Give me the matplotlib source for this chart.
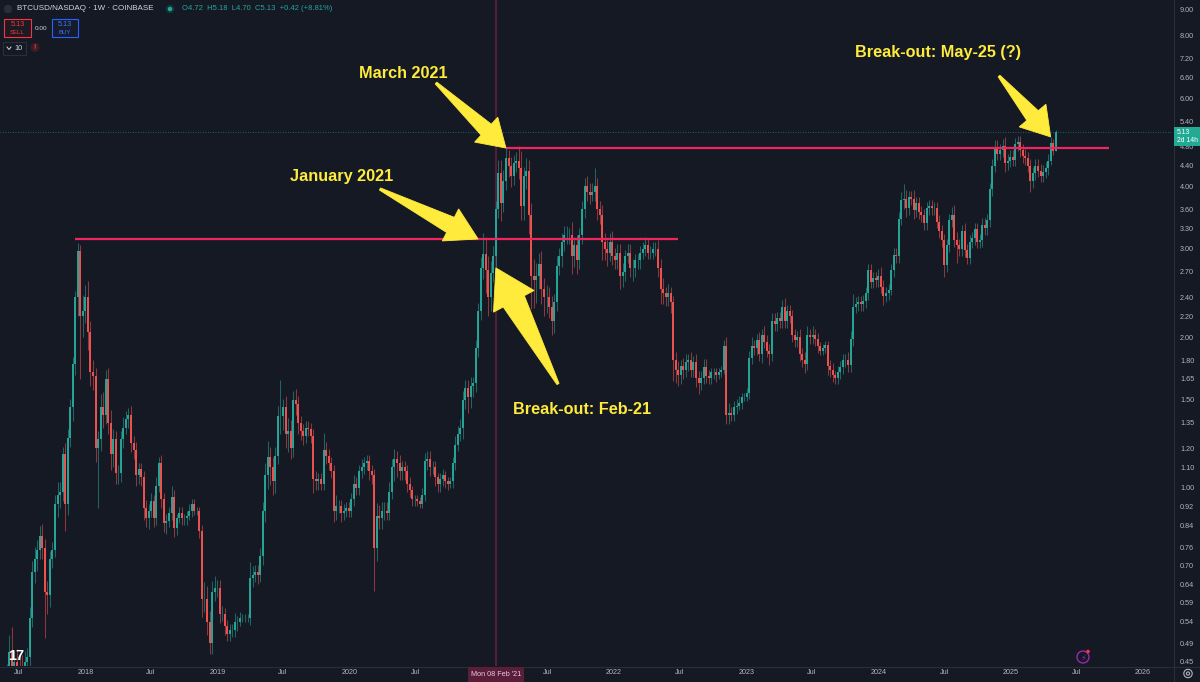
import matplotlib
matplotlib.use("Agg")
import matplotlib.pyplot as plt
import matplotlib.dates as mdates
from matplotlib.patches import Polygon, Rectangle, Circle
from matplotlib.ticker import NullLocator
import numpy as np
import pandas as pd

W, H = 1200, 682
BG = "#151924"
UP, DN = "#26a69a", "#ef5350"
YEL = "#ffeb3b"
PINK = "#f0245e"
AXC = "#b2b5be"

plt.rcParams["font.family"] = ["Liberation Sans", "DejaVu Sans"]

# weekly closes BTCUSD / NASDAQ, first week = 15 May 2017
closes = [
    # 2017
    0.34, 0.37, 0.42,
    0.47, 0.44, 0.45, 0.44,
    0.43, 0.34, 0.45, 0.46, 0.55,
    0.68, 0.72, 0.75, 0.80,
    0.76, 0.62, 0.61, 0.72,
    0.75, 0.93, 0.97, 0.98, 1.17,
    0.93, 1.26, 1.45, 1.77,
    2.40, 2.97, 2.20, 2.25,
    # 2018
    2.40, 2.05, 1.70, 1.67, 1.20,
    1.25, 1.45, 1.40, 1.65,
    1.35, 1.17, 1.25, 1.07,
    1.07, 1.25, 1.32, 1.37, 1.40,
    1.23, 1.19, 1.06, 1.09,
    1.05, 0.91, 0.87, 0.90,
    0.94, 0.87, 1.01, 1.12, 0.95,
    0.85, 0.86, 0.89, 0.96,
    0.83, 0.87, 0.89, 0.87,
    0.87, 0.88, 0.90, 0.93, 0.90,
    0.90, 0.82, 0.60, 0.60,
    0.54, 0.49, 0.62, 0.63, 0.63,
    # 2019
    0.56, 0.56, 0.53, 0.51,
    0.52, 0.52, 0.54, 0.54,
    0.55, 0.55, 0.55, 0.55,
    0.66, 0.67, 0.68, 0.67, 0.73,
    0.90, 1.06, 1.15, 1.10,
    1.03, 1.16, 1.39, 1.39,
    1.45, 1.28, 1.30, 1.20, 1.50,
    1.47, 1.35, 1.30, 1.27,
    1.32, 1.31, 1.27, 1.04, 1.03,
    1.04, 1.02, 1.19, 1.16,
    1.12, 1.08, 0.90, 0.92,
    0.92, 0.89, 0.90, 0.91, 0.90,
    # 2020
    0.95, 1.02, 1.00, 1.08,
    1.10, 1.12, 1.13, 1.08,
    1.06, 0.76, 0.88, 0.87, 0.90,
    0.90, 0.89, 0.98, 1.10,
    1.14, 1.12, 1.08, 1.10,
    1.08, 1.02, 0.99, 0.95, 0.95,
    0.94, 0.93, 0.97, 1.13,
    1.14, 1.10, 1.10, 1.05, 1.02,
    1.04, 1.06, 1.03, 1.02,
    1.03, 1.12, 1.22, 1.28,
    1.32, 1.50, 1.58, 1.52, 1.60,
    1.62, 1.90, 2.25, 2.75,
    # 2021
    2.93, 2.72, 2.40, 2.68,
    2.90, 3.60, 4.25, 3.70,
    4.10, 4.55, 4.40, 4.20, 4.45,
    4.50, 4.35, 3.65, 4.20,
    4.30, 3.50, 2.65, 2.60, 2.65,
    2.80, 2.50, 2.40, 2.40,
    2.30, 2.15, 2.35, 2.77,
    2.90, 3.10, 3.20, 3.20, 3.20,
    2.90, 3.05, 2.85, 3.20,
    3.60, 4.00, 3.90, 3.85,
    3.90, 4.00, 3.60, 3.50, 3.10,
    3.00, 2.95, 3.10, 2.90,
    # 2022
    2.85, 2.95, 2.65, 2.70, 2.90,
    2.95, 2.75, 2.75, 2.85,
    2.85, 2.95, 3.00, 3.05,
    2.95, 2.95, 3.00, 3.00,
    2.75, 2.50, 2.45, 2.40, 2.45,
    2.35, 1.80, 1.72, 1.68,
    1.75, 1.72, 1.78, 1.80,
    1.72, 1.78, 1.66, 1.62, 1.66,
    1.74, 1.67, 1.66, 1.70,
    1.70, 1.68, 1.70, 1.72, 1.92,
    1.40, 1.41, 1.40, 1.45,
    1.46, 1.48, 1.52, 1.52,
    # 2023
    1.55, 1.82, 1.92, 1.90, 1.97,
    1.85, 2.02, 1.96, 1.88,
    1.85, 2.15, 2.12, 2.18,
    2.15, 2.30, 2.15, 2.25,
    2.20, 2.02, 1.97, 2.00, 1.85,
    1.80, 1.77, 2.02, 2.00,
    2.02, 1.98, 1.92, 1.88, 1.90,
    1.93, 1.75, 1.72, 1.68,
    1.66, 1.70, 1.74, 1.80,
    1.80, 1.76, 1.98, 2.30, 2.33,
    2.35, 2.33, 2.36, 2.45,
    2.72, 2.58, 2.62, 2.60,
    # 2024
    2.65, 2.52, 2.42, 2.45, 2.48,
    2.72, 2.92, 2.90, 3.45,
    3.75, 3.78, 3.62, 3.80,
    3.78, 3.58, 3.70, 3.55, 3.50,
    3.38, 3.62, 3.65, 3.62,
    3.62, 3.40, 3.25, 3.12,
    2.78, 3.05, 3.42, 3.50, 3.12,
    3.05, 3.00, 3.25, 2.98,
    2.88, 3.10, 3.15, 3.28, 3.10,
    3.12, 3.35, 3.30, 3.42,
    3.95, 4.40, 4.80, 4.65,
    4.72, 4.82, 4.45, 4.50, 4.58,
    # 2025
    4.52, 4.85, 4.90, 4.72,
    4.60, 4.55, 4.40, 4.10,
    4.25, 4.40, 4.30, 4.20, 4.28,
    4.35, 4.50, 4.88, 4.71,
    5.13,
]
first_open = 0.31

# upper / lower wick, in % beyond the candle body
up_wick = [
    5, 6, 6,  8, 12, 5, 6,  5, 8, 5, 4, 5,  5, 6, 5, 5,  6, 4, 5, 4,
    4, 4, 6, 5, 3,  5, 4, 4, 3,  3, 4, 3, 8,
    6, 8, 5, 6, 4,  4, 6, 7, 4,  5, 6, 5, 4,  4, 4, 5, 4, 3,  4, 3, 4, 3,
    3, 3, 4, 3,  4, 3, 4, 3, 4,  3, 3, 3, 5,  3, 2, 3, 3,  2, 2, 3, 2, 2,
    2, 2, 3, 8,  6, 5, 5, 6, 4,
    4, 4, 3, 3,  3, 3, 4, 3,  3, 2, 2, 2,  8, 4, 3, 3, 4,  4, 6, 8, 5,
    5, 4, 5, 18,  4, 5, 6, 5, 4,  5, 4, 3, 3,  3, 3, 3, 3, 4,  3, 3, 8, 4,
    3, 3, 3, 5,  3, 3, 3, 3, 3,
    3, 4, 3, 3,  4, 3, 3, 3,  3, 3, 6, 5, 4,  4, 4, 5, 4,  5, 4, 4, 3,
    3, 3, 3, 2, 2,  2, 2, 3, 4,  4, 4, 3, 3, 2,  3, 3, 2, 2,  2, 3, 4, 4,
    4, 4, 4, 4, 4,  3, 4, 4, 5,
    10, 8, 7, 6,  5, 4, 6, 6,  5, 5, 4, 4, 4,  4, 7, 8, 4,  6, 5, 6, 8, 6,
    5, 6, 5, 6,  5, 5, 4, 5,  4, 4, 4, 4, 3,  6, 4, 5, 3,  4, 4, 5, 4,
    4, 9, 4, 4, 5,  4, 4, 4, 5,
    4, 4, 4, 4, 3,  4, 4, 4, 3,  3, 3, 3, 4,  3, 3, 3, 3,  4, 4, 5, 3, 4,
    3, 3, 4, 4,  3, 4, 4, 3,  4, 3, 4, 3, 3,  4, 4, 3, 2,  2, 2, 2, 2, 3,
    4, 5, 3, 3,  3, 3, 2, 2,
    2, 3, 4, 3, 3,  4, 3, 4, 3,  3, 4, 4, 3,  3, 3, 4, 3,  3, 3, 3, 3, 4,
    3, 4, 4, 3,  4, 3, 3, 2, 2,  2, 2, 3, 3,  2, 3, 3, 3,  3, 4, 4, 6, 3,
    3, 3, 3, 3,  3, 3, 3, 3,
    3, 4, 3, 3, 3,  3, 3, 3, 3,  4, 7, 4, 3,  3, 4, 3, 3, 3,  3, 3, 3, 3,
    3, 3, 3, 3,  3, 3, 3, 4, 5,  4, 3, 3, 4,  3, 3, 3, 3, 3,  3, 3, 3, 3,
    3, 3, 3, 3,  3, 3, 4, 3, 3,
    3, 3, 3, 3,  3, 3, 3, 3,  3, 3, 3, 3, 3,  3, 3, 3, 2,  1,
]
dn_wick = [
    4, 5, 4,  6, 8, 6, 5,  6, 10, 5, 4, 5,  4, 5, 5, 4,  5, 19, 8, 5,
    4, 3, 6, 6, 4,  12, 5, 4, 6,  5, 8, 25, 9,
    5, 8, 6, 6, 6,  24, 5, 6, 4,  5, 7, 6, 5,  5, 4, 4, 3, 4,  4, 4, 5, 4,
    4, 5, 4, 5,  3, 4, 3, 3, 4,  4, 5, 3, 3,  4, 3, 2, 3,  3, 3, 2, 3, 2,
    2, 3, 8, 6,  6, 5, 5, 4, 4,
    4, 3, 4, 3,  3, 3, 3, 4,  2, 2, 2, 2,  3, 4, 3, 4, 3,  4, 5, 6, 8,
    6, 5, 4, 8,  6, 6, 8, 5, 4,  5, 5, 4, 4,  3, 3, 3, 6, 4,  4, 3, 3, 4,
    3, 3, 5, 4,  3, 4, 3, 3, 3,
    3, 3, 3, 3,  3, 3, 3, 4,  4, 18, 6, 5, 5,  4, 3, 3, 3,  6, 6, 4, 4,
    4, 4, 3, 3, 3,  2, 2, 2, 3,  4, 4, 3, 4, 4,  4, 3, 3, 3,  2, 3, 3, 3,
    3, 5, 4, 7, 5,  5, 4, 4, 4,
    5, 10, 8, 6,  4, 5, 4, 8,  4, 4, 5, 5, 4,  4, 5, 6, 6,  6, 8, 14, 12, 10,
    6, 7, 8, 7,  5, 6, 5, 4,  4, 5, 4, 4, 4,  8, 5, 6, 4,  4, 4, 4, 4,
    3, 4, 5, 4, 8,  5, 6, 4, 4,
    4, 4, 6, 5, 4,  3, 4, 6, 4,  4, 4, 3, 3,  3, 3, 3, 3,  4, 7, 5, 4, 4,
    5, 9, 6, 5,  4, 4, 3, 4,  3, 3, 4, 5, 3,  3, 3, 3, 3,  3, 3, 2, 2, 2,
    4, 4, 3, 3,  3, 2, 3, 2,
    2, 3, 3, 3, 3,  3, 4, 3, 3,  5, 3, 3, 3,  3, 3, 3, 3,  3, 3, 3, 3, 3,
    3, 4, 3, 3,  3, 3, 3, 2, 2,  2, 4, 3, 3,  3, 3, 3, 3,  3, 3, 3, 3, 3,
    3, 3, 3, 3,  3, 3, 3, 3,
    3, 3, 4, 3, 3,  2, 3, 3, 3,  3, 4, 4, 3,  3, 4, 3, 3, 3,  3, 3, 3, 3,
    3, 3, 3, 3,  5, 3, 3, 3, 3,  8, 3, 3, 3,  3, 3, 3, 3, 3,  3, 3, 3, 3,
    3, 3, 3, 3,  3, 3, 4, 3, 3,
    3, 3, 3, 3,  3, 3, 3, 5,  3, 3, 3, 3, 3,  3, 3, 2, 2,  0,
]

# horizontal levels drawn on the chart
levels = [3.14, 4.77]
level_start = ["2017-12-04", "2021-03-08"]
level_end = ["2022-06-27", "2025-09-29"]
marked_week = "2021-02-08"
last_price = 5.13

yticks = [9.00, 8.00, 7.20, 6.60, 6.00, 5.40, 4.80, 4.40, 4.00, 3.60, 3.30,
          3.00, 2.70, 2.40, 2.20, 2.00, 1.80, 1.65, 1.50, 1.35, 1.20, 1.10,
          1.00, 0.92, 0.84, 0.76, 0.70, 0.64, 0.59, 0.54, 0.49, 0.45]
# the 2021 label sits under the crosshair date tag, so it is left out
xtick_dates = ["2017-07-01", "2018-01-01", "2018-07-01", "2019-01-01",
               "2019-07-01", "2020-01-01", "2020-07-01",
               "2021-07-01", "2022-01-01", "2022-07-01", "2023-01-01",
               "2023-07-01", "2024-01-01", "2024-07-01", "2025-01-01",
               "2025-07-01", "2026-01-01"]
xtick_labels = ["Jul", "2018", "Jul", "2019", "Jul", "2020", "Jul",
                "Jul", "2022", "Jul", "2023", "Jul", "2024", "Jul", "2025",
                "Jul", "2026"]

assert len(closes) == len(up_wick) == len(dn_wick), (len(closes), len(up_wick), len(dn_wick))

dates = pd.date_range("2017-05-15", periods=len(closes), freq="7D")
x = mdates.date2num(dates)
c = np.array(closes)
o = np.r_[first_open, c[:-1]]
hi = np.maximum(o, c) * (1 + np.array(up_wick) / 100)
lo = np.minimum(o, c) * (1 - np.array(dn_wick) / 100)
rising = c >= o

fig = plt.figure(figsize=(W / 100, H / 100), dpi=100, facecolor=BG)
ax = fig.add_axes([0, 16 / H, 1173 / W, 666 / H], facecolor=BG)
ax.set_yscale("log")
ax.set_ylim(0.441, 9.42)
ax.set_xlim(mdates.datestr2num("2017-05-10"), mdates.datestr2num("2026-03-25"))

for m, col in ((rising, UP), (~rising, DN)):
    ax.vlines(x[m], lo[m], hi[m], color=col, lw=0.75, alpha=0.55, zorder=3)
    ax.vlines(x[m], np.minimum(o, c)[m], np.maximum(o, c)[m], color=col, lw=1.4, zorder=3)

for lev, a, b in zip(levels, level_start, level_end):
    ax.hlines(lev, mdates.datestr2num(a), mdates.datestr2num(b), color=PINK, lw=1.6, zorder=4)
ax.axvline(mdates.datestr2num(marked_week), color="#5c1f3b", lw=1.3, zorder=1)
ax.axhline(last_price, color=UP, lw=0.6, ls=(0, (1, 2)), alpha=0.7, zorder=2)

for s in ax.spines.values():
    s.set_visible(False)
ax.yaxis.tick_right()
ax.yaxis.set_minor_locator(NullLocator())
ax.set_yticks(yticks)
ax.set_yticklabels([f"{v:.2f}" for v in yticks])
ax.set_xticks(mdates.datestr2num(xtick_dates))
ax.set_xticklabels(xtick_labels)
ax.tick_params(axis="y", length=0, pad=5, labelsize=5.2, labelcolor=AXC)
ax.tick_params(axis="x", length=0, pad=2.5, labelsize=5.2, labelcolor=AXC)

# overlay in pixel coordinates (y downwards) for drawings and UI bits
ov = fig.add_axes([0, 0, 1, 1])
ov.set_xlim(0, W)
ov.set_ylim(H, 0)
ov.axis("off")
ov.patch.set_alpha(0)
ov.set_zorder(5)


def to_px(date, price):
    dx, dy = ax.transData.transform((mdates.datestr2num(date), price))
    return dx, H - dy


def fat_arrow(tail, tip, head_len, head_w, shaft_w):
    tail = np.array(tail, float)
    tip = np.array(tip, float)
    u = (tip - tail) / np.hypot(*(tip - tail))
    n = np.array([-u[1], u[0]])
    base = tip - u * head_len
    pts = [tail + n * 1.2, base + n * shaft_w / 2, base + n * head_w / 2, tip,
           base - n * head_w / 2, base - n * shaft_w / 2, tail - n * 1.2]
    ov.add_patch(Polygon(pts, closed=True, fc=YEL, ec=YEL, lw=0.6, zorder=6))


fat_arrow((436, 83), to_px("2021-03-08", 4.77), 27, 34, 15)
fat_arrow((380, 189), to_px("2020-12-21", 3.14), 31, 36, 17)
fat_arrow((558, 384), to_px("2021-02-08", 2.75), 38, 46, 24)
fat_arrow((999, 76), to_px("2025-04-21", 5.02), 28, 35, 15)

tkw = dict(color=YEL, fontsize=11.7, fontweight="bold", ha="center", va="center", zorder=7)
ov.text(403, 74, "March 2021", **tkw)
ov.text(342, 177, "January 2021", **tkw)
ov.text(582, 410, "Break-out: Feb-21", **tkw)
ov.text(938, 53, "Break-out: May-25 (?)", **tkw)

# axis separators
ov.plot([1173.5, 1173.5], [0, H], color="#2a2e39", lw=0.8)
ov.plot([0, W], [666.5, 666.5], color="#2a2e39", lw=0.8)

# last price tag
ov.add_patch(Rectangle((1174, 127), 26, 19, fc="#22ab94", ec="none", zorder=8))
ov.text(1177, 132, "5.13", color="white", fontsize=4.9, va="center", zorder=9)
ov.text(1177, 141, "2d 14h", color="white", fontsize=4.9, va="center", zorder=9)

# crosshair date tag
ov.add_patch(Rectangle((468, 667), 56, 15, fc="#5a1e3a", ec="none", zorder=8))
ov.text(496, 674.5, "Mon 08 Feb '21", color="#e8cbd8", fontsize=5.2,
        ha="center", va="center", zorder=9)

# header
ov.add_patch(Circle((8, 9), 4.2, fc="#2a2e39", ec="none"))
ov.text(17, 9, "BTCUSD/NASDAQ · 1W · COINBASE", color="#d1d4dc", fontsize=5.8, va="center")
ov.add_patch(Circle((170, 9), 4.2, fc="#0d3b37", ec="none"))
ov.add_patch(Circle((170, 9), 2.2, fc=UP, ec="none"))
ov.text(182, 9, "O4.72  H5.18  L4.70  C5.13  +0.42 (+8.81%)", color=UP, fontsize=5.5, va="center")

ov.add_patch(Rectangle((4, 19), 27, 18, fc="#1d1a22", ec="#f23645", lw=0.8))
ov.text(17.5, 24.5, "5.13", color="#f23645", fontsize=5.3, ha="center", va="center")
ov.text(17.5, 32.5, "SELL", color="#f23645", fontsize=4.3, ha="center", va="center")
ov.text(41.5, 28, "0.00", color="#d1d4dc", fontsize=4.6, ha="center", va="center")
ov.add_patch(Rectangle((52, 19), 26, 18, fc="#161c2c", ec="#2962ff", lw=0.8))
ov.text(65, 24.5, "5.13", color="#3d73ff", fontsize=5.3, ha="center", va="center")
ov.text(65, 32.5, "BUY", color="#3d73ff", fontsize=4.3, ha="center", va="center")

ov.add_patch(Rectangle((3, 42), 23, 13, fc="none", ec="#2a2e39", lw=0.8))
ov.plot([7, 9, 11], [47, 49.5, 47], color="#d1d4dc", lw=0.7)
ov.text(18.5, 48.5, "10", color="#d1d4dc", fontsize=5.3, ha="center", va="center")
ov.add_patch(Circle((35, 47.5), 4.5, fc="#3c1d24", ec="none"))
ov.text(35, 47.8, "!", color="#f23645", fontsize=5.5, fontweight="bold", ha="center", va="center")

# logo and icons
ov.text(16, 656, "17", color="white", fontsize=10.5, fontweight="bold", ha="center", va="center")
ov.add_patch(Circle((1083, 657), 6, fc="none", ec="#9c27b0", lw=1.0))
ov.text(1083, 657.5, "\u26a1", color="#9c27b0", fontsize=6, ha="center", va="center",
        family=["DejaVu Sans"])
ov.add_patch(Circle((1088, 651.5), 1.8, fc="#f23645", ec="none"))
ov.add_patch(Circle((1188, 673.5), 4.2, fc="none", ec=AXC, lw=0.8))
ov.add_patch(Circle((1188, 673.5), 1.6, fc="none", ec=AXC, lw=0.8))

fig.savefig("out.png", dpi=100, facecolor=BG)
